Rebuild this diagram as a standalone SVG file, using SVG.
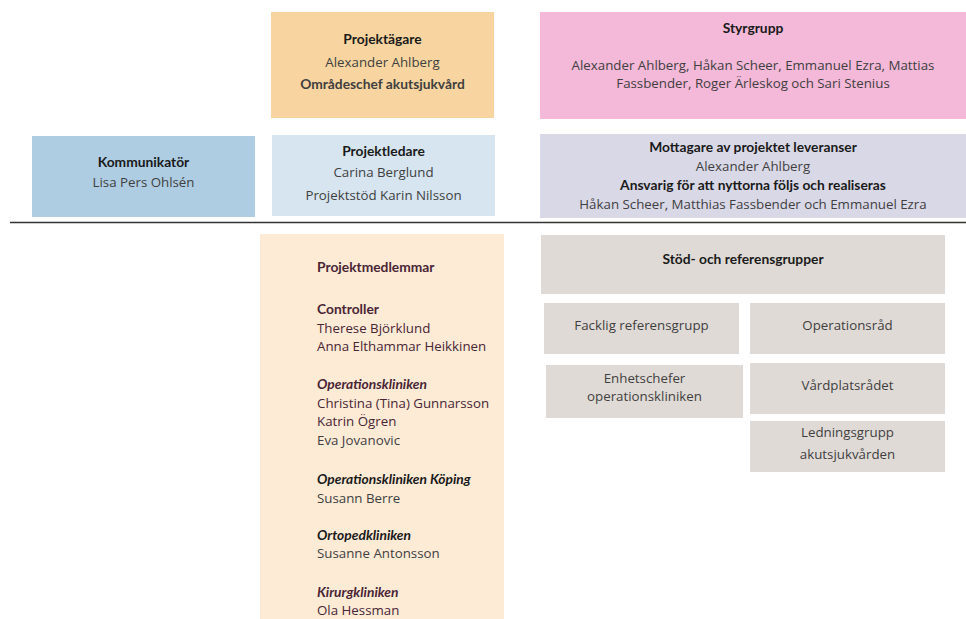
<svg xmlns="http://www.w3.org/2000/svg" width="966" height="619" viewBox="0 0 966 619">
  <style>
    .r { font-family: "Open Sans", "Noto Sans", sans-serif; font-size: 13.3px; fill: #3f3f3f; }
    .b { font-family: Lato, "Liberation Sans", sans-serif; font-size: 13.8px; font-weight: bold; fill: #1a1a1a; }
    .c { text-anchor: middle; }
    .m { fill: #4a2535; }
    .bi { font-style: italic; }
  </style>
  <rect width="966" height="619" fill="#ffffff"/>

  <!-- divider -->
  <g id="connectors">
    <line x1="10" y1="222.5" x2="966" y2="222.5" stroke="#333333" stroke-width="1.5"/>
  </g>

  <g id="projektagare">
    <rect x="271" y="12" width="223" height="106" fill="#f8d5a0"/>
    <text class="b c" x="382.5" y="44">Projektägare</text>
    <text class="r c" x="382.5" y="67">Alexander Ahlberg</text>
    <text class="b c" x="382.5" y="89" style="fill:#3f3f3f">Områdeschef akutsjukvård</text>
  </g>

  <g id="styrgrupp">
    <rect x="540" y="12" width="426" height="107" fill="#f4b8d8"/>
    <text class="b c" x="753" y="33">Styrgrupp</text>
    <text class="r c" x="753" y="70">Alexander Ahlberg, Håkan Scheer, Emmanuel Ezra, Mattias</text>
    <text class="r c" x="753" y="88">Fassbender, Roger Ärleskog och Sari Stenius</text>
  </g>

  <g id="kommunikator">
    <rect x="32" y="136" width="223" height="81" fill="#aecde3"/>
    <text class="b c" x="143.5" y="167">Kommunikatör</text>
    <text class="r c" x="143.5" y="187">Lisa Pers Ohlsén</text>
  </g>

  <g id="projektledare">
    <rect x="272" y="135" width="223" height="81" fill="#d6e5f0"/>
    <text class="b c" x="383.5" y="156">Projektledare</text>
    <text class="r c" x="383.5" y="177">Carina Berglund</text>
    <text class="r c" x="383.5" y="200">Projektstöd Karin Nilsson</text>
  </g>

  <g id="mottagare">
    <rect x="540" y="134" width="426" height="84" fill="#d9d8e7"/>
    <text class="b c" x="753" y="152">Mottagare av projektet leveranser</text>
    <text class="r c" x="753" y="171">Alexander Ahlberg</text>
    <text class="b c" x="753" y="190">Ansvarig för att nyttorna följs och realiseras</text>
    <text class="r c" x="753" y="209">Håkan Scheer, Matthias Fassbender och Emmanuel Ezra</text>
  </g>

  <g id="projektmedlemmar">
    <rect x="260" y="234" width="244" height="385" fill="#fdebd6"/>
    <text class="b m" x="317" y="272">Projektmedlemmar</text>
    <text class="b m" x="317" y="314">Controller</text>
    <text class="r m" x="317" y="333">Therese Björklund</text>
    <text class="r m" x="317" y="351">Anna Elthammar Heikkinen</text>
    <text class="b bi m" x="317" y="389">Operationskliniken</text>
    <text class="r m" x="317" y="408">Christina (Tina) Gunnarsson</text>
    <text class="r m" x="317" y="426">Katrin Ögren</text>
    <text class="r" x="317" y="445">Eva Jovanovic</text>
    <text class="b bi" x="317" y="484">Operationskliniken Köping</text>
    <text class="r" x="317" y="503">Susann Berre</text>
    <text class="b bi" x="317" y="540">Ortopedkliniken</text>
    <text class="r" x="317" y="558">Susanne Antonsson</text>
    <text class="b bi m" x="317" y="597">Kirurgkliniken</text>
    <text class="r m" x="317" y="615">Ola Hessman</text>
  </g>

  <g id="stod">
    <rect x="541" y="235" width="404" height="59" fill="#dfdad6"/>
    <text class="b c" x="743" y="264">Stöd- och referensgrupper</text>
  </g>

  <g id="facklig">
    <rect x="544" y="303" width="195" height="51" fill="#dfdad6"/>
    <text class="r c" x="641.5" y="330">Facklig referensgrupp</text>
  </g>

  <g id="operationsrad">
    <rect x="750" y="303" width="195" height="51" fill="#dfdad6"/>
    <text class="r c" x="847.5" y="330">Operationsråd</text>
  </g>

  <g id="enhetschefer">
    <rect x="546" y="365" width="197" height="53" fill="#dfdad6"/>
    <text class="r c" x="644.5" y="383">Enhetschefer</text>
    <text class="r c" x="644.5" y="401">operationskliniken</text>
  </g>

  <g id="vardplatsradet">
    <rect x="750" y="363" width="195" height="51" fill="#dfdad6"/>
    <text class="r c" x="847.5" y="390">Vårdplatsrådet</text>
  </g>

  <g id="ledningsgrupp">
    <rect x="750" y="421" width="195" height="51" fill="#dfdad6"/>
    <text class="r c" x="847.5" y="437">Ledningsgrupp</text>
    <text class="r c" x="847.5" y="459">akutsjukvården</text>
  </g>
</svg>
